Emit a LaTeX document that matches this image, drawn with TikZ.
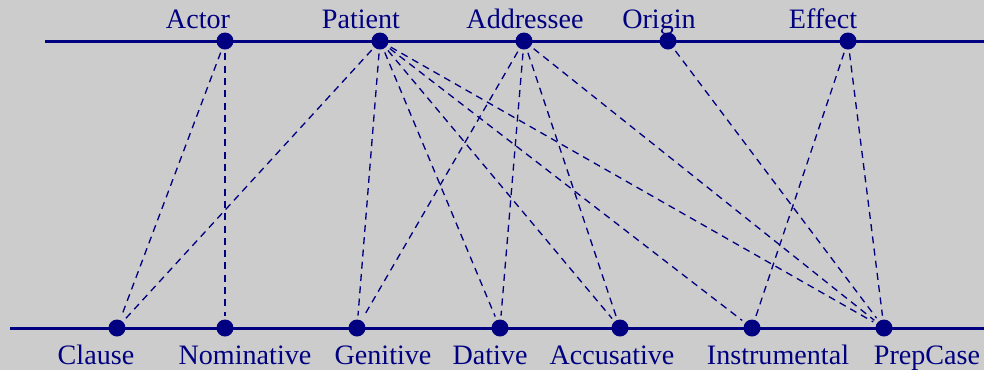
\documentclass[tikz,border=0pt]{standalone}
\usepackage{fontspec}
\setmainfont{Liberation Serif}
\definecolor{navy}{RGB}{0,0,128}
\definecolor{bggray}{RGB}{204,204,204}
\begin{document}
\begin{tikzpicture}[x=0.02cm, y=-0.02cm]
        \tikzstyle{dot}=[circle, fill=navy, inner sep=0pt, minimum size=0.34cm]
        \tikzstyle{lbl}=[text=navy, anchor=base, inner sep=0pt, font=\fontsize{16}{19}\selectfont]
        \tikzstyle{axis}=[draw=navy, line width=1.7pt]
        \tikzstyle{link}=[draw=navy, line width=0.75pt, dash pattern=on 4pt off 3pt, shorten <=2pt, shorten >=2pt]
        \fill[bggray] (0,0) rectangle (984,370);
        \useasboundingbox (0,0) rectangle (984,370);
        % the two axes
        \coordinate (tl) at (45,41);
        \coordinate (tr) at (984,41);
        \coordinate (bl) at (10,328);
        \coordinate (br) at (984,328);
        \draw[axis] (tl) -- (tr);
        \draw[axis] (bl) -- (br);
        % roles
        \node[dot] (actor) at (225,41) {};
        \node[dot] (patient) at (380,41) {};
        \node[dot] (addressee) at (524,41) {};
        \node[dot] (origin) at (668,41) {};
        \node[dot] (effect) at (848,41) {};
        \node[lbl] (actorl) at (198,28) {Actor};
        \node[lbl] (patientl) at (361,28) {Patient};
        \node[lbl] (addresseel) at (525,28) {Addressee};
        \node[lbl] (originl) at (659,28) {Origin};
        \node[lbl] (effectl) at (823,28) {Effect};
        % cases
        \node[dot] (clause) at (117,328) {};
        \node[dot] (nom) at (225,328) {};
        \node[dot] (gen) at (357,328) {};
        \node[dot] (dat) at (500,328) {};
        \node[dot] (acc) at (620,328) {};
        \node[dot] (instr) at (752,328) {};
        \node[dot] (prep) at (884,328) {};
        \node[lbl] (clausel) at (96,364) {Clause};
        \node[lbl] (noml) at (245,364) {Nominative};
        \node[lbl] (genl) at (383,364) {Genitive};
        \node[lbl] (datl) at (490,364) {Dative};
        \node[lbl] (accl) at (612,364) {Accusative};
        \node[lbl] (instrl) at (778,364) {Instrumental};
        \node[lbl] (prepl) at (927,364) {PrepCase};
        % mappings
        \draw[link] (actor) -- (clause);
        \draw[link] (actor) -- (nom);
        \draw[link] (patient) -- (clause);
        \draw[link] (patient) -- (gen);
        \draw[link] (patient) -- (dat);
        \draw[link] (patient) -- (acc);
        \draw[link] (patient) -- (instr);
        \draw[link] (patient) -- (prep);
        \draw[link] (addressee) -- (gen);
        \draw[link] (addressee) -- (dat);
        \draw[link] (addressee) -- (acc);
        \draw[link] (addressee) -- (prep);
        \draw[link] (origin) -- (prep);
        \draw[link] (effect) -- (instr);
        \draw[link] (effect) -- (prep);
\end{tikzpicture}
\end{document}
